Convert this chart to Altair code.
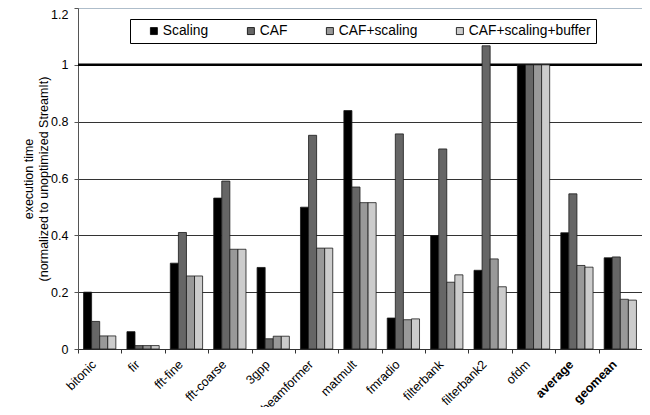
import altair as alt
import pandas as pd

benchmarks = ["bitonic", "fir", "fft-fine", "fft-coarse", "3gpp", "beamformer",
              "matmult", "fmradio", "filterbank", "filterbank2", "ofdm",
              "average", "geomean"]
series = ["Scaling", "CAF", "CAF+scaling", "CAF+scaling+buffer"]
scaling = [0.200, 0.061, 0.302, 0.531, 0.287, 0.499, 0.839, 0.109, 0.399, 0.277, 1.000, 0.409, 0.321]
caf = [0.097, 0.012, 0.410, 0.591, 0.036, 0.752, 0.570, 0.757, 0.704, 1.067, 1.000, 0.546, 0.324]
caf_scaling = [0.046, 0.012, 0.257, 0.351, 0.045, 0.355, 0.515, 0.103, 0.235, 0.317, 1.000, 0.294, 0.175]
caf_scaling_buffer = [0.046, 0.012, 0.257, 0.351, 0.045, 0.355, 0.515, 0.106, 0.261, 0.219, 1.000, 0.288, 0.172]
y_ticks = [0, 0.2, 0.4, 0.6, 0.8, 1.0, 1.2]
baseline_value = [1.0]
colors = ["#000000", "#666666", "#999999", "#cccccc"]

rows = []
for i, b in enumerate(benchmarks):
    for s, vals in zip(series, [scaling, caf, caf_scaling, caf_scaling_buffer]):
        rows.append({"benchmark": b, "series": s, "value": vals[i]})
df = pd.DataFrame(rows)

FONT = "Liberation Sans"
W, H = 564, 341
half_step = W / len(benchmarks) / 2

x_scale = alt.Scale(domain=benchmarks, paddingInner=0.256, paddingOuter=0.128)
y_scale = alt.Scale(domain=[0, 1.2], nice=False)

bars = alt.Chart(df).mark_bar(stroke="#1a1a1a", strokeWidth=0.8).encode(
    x=alt.X("benchmark:N", scale=x_scale, sort=benchmarks,
            axis=alt.Axis(title=None, labelAngle=-45, labelFontSize=12.5, labelFont=FONT,
                          labelColor="#000000", labelBaseline="middle", labelAlign="right",
                          labelFontWeight=alt.ExprRef(
                              "datum.value == 'average' || datum.value == 'geomean' ? 'bold' : 'normal'"),
                          tickOffset=-half_step, labelOffset=half_step - 6,
                          tickSize=4, tickColor="#333333", domainColor="#333333",
                          labelPadding=9, grid=False)),
    xOffset=alt.XOffset("series:N", sort=series,
                        scale=alt.Scale(domain=series, paddingInner=0, paddingOuter=0)),
    y=alt.Y("value:Q", scale=y_scale,
            axis=alt.Axis(title=["execution time", "(normalized to unoptimized StreamIt)"],
                          values=y_ticks, format="~g", grid=True,
                          gridColor=alt.ExprRef("datum.value == 1.2 ? '#aebdca' : '#333333'"),
                          gridWidth=1,
                          labelFontSize=12.5, labelFont=FONT, labelColor="#000000",
                          labelOffset=alt.ExprRef("datum.value == 1.2 ? 6 : 0"),
                          tickSize=4, tickColor="#555555", domainColor="#555555",
                          labelPadding=6,
                          titleFont=FONT, titleFontSize=12.5, titleFontWeight="normal",
                          titleColor="#000000", titleX=-50, titleY=H / 2,
                          titleAlign="center", titleBaseline="middle", titleLineHeight=15)),
    color=alt.Color("series:N", sort=series,
                    scale=alt.Scale(domain=series, range=colors),
                    legend=alt.Legend(orient="none", legendX=52, legendY=11,
                                      direction="horizontal", title=" ",
                                      titleOrient="left", titlePadding=12,
                                      titleFontSize=12,
                                      strokeColor="#000000", fillColor="#ffffff",
                                      padding=5, columnPadding=35,
                                      symbolType="square", symbolSize=49,
                                      symbolStrokeColor="#000000", symbolStrokeWidth=0.8,
                                      labelFont=FONT, labelFontSize=13.8,
                                      labelColor="#000000", labelOffset=2,
                                      labelExpr="datum.label == 'CAF+scaling+buffer' ? datum.label + '    ' : datum.label")),
)

rule = alt.Chart(pd.DataFrame({"y": baseline_value})).mark_rule(
    color="#000000", strokeWidth=2.5).encode(y=alt.Y("y:Q", scale=y_scale))

chart = alt.layer(rule, bars).properties(
    width=W, height=H,
    autosize=alt.AutoSizeParams(type="none"),
    padding={"left": 70, "top": 0, "right": 0, "bottom": 58},
).configure_view(stroke="#aebdca", strokeWidth=1)

chart.save("out.html", embed_options={"renderer": "svg", "actions": False})
